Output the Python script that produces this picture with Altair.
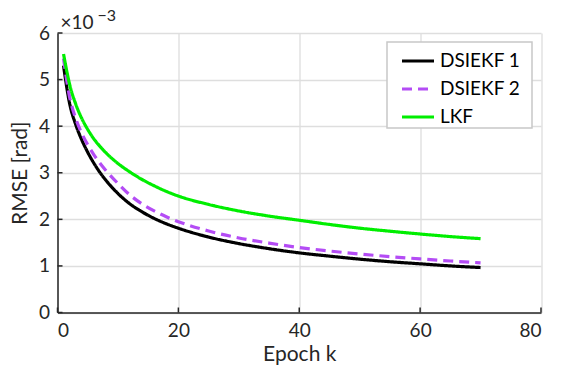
import altair as alt
import pandas as pd

# ---- data ----
epochs = [1, 2, 3, 4, 5, 6, 7, 8, 10, 12, 14, 16, 18, 20, 25, 30, 35, 40, 45, 50, 55, 60, 65, 70]
dsiekf1 = [5.30, 4.49, 4.04, 3.71, 3.44, 3.21, 3.01, 2.84, 2.555, 2.33, 2.16, 2.02, 1.905, 1.81,
           1.62, 1.48, 1.37, 1.28, 1.21, 1.145, 1.09, 1.045, 1.00, 0.965]
dsiekf2 = [5.45, 4.63, 4.17, 3.85, 3.60, 3.39, 3.21, 3.05, 2.77, 2.52, 2.33, 2.18, 2.055, 1.95,
           1.75, 1.60, 1.49, 1.395, 1.32, 1.255, 1.20, 1.15, 1.105, 1.067]
lkf = [5.55, 4.90, 4.48, 4.17, 3.93, 3.73, 3.57, 3.43, 3.20, 3.015, 2.855, 2.72, 2.60, 2.50,
       2.32, 2.18, 2.07, 1.98, 1.89, 1.81, 1.745, 1.685, 1.63, 1.585]
series_names = ["DSIEKF 1", "DSIEKF 2", "LKF"]
series_colors = ["#000000", "#b44cf5", "#00ee00"]
series_dash = [[1, 0], [10, 6], [1, 0]]
x_ticks = [0, 20, 40, 60, 80]
y_ticks = [0, 1, 2, 3, 4, 5, 6]

W, H = 483.5, 279.5
FONT = "Lato"

rows = []
for name, vals in zip(series_names, [dsiekf1, dsiekf2, lkf]):
    for k, v in zip(epochs, vals):
        rows.append({"k": k, "rmse": v, "series": name})
df = pd.DataFrame(rows)

xs = alt.Scale(domain=[0, 80], nice=False)
ys = alt.Scale(domain=[0, 6], nice=False)

# legend frame (decoration)
frame = alt.Chart(pd.DataFrame({"a": [0]})).mark_rect(
    fill="white", stroke="#c8c8c8", strokeWidth=1.5).encode(
    x=alt.value(329.5), x2=alt.value(474.5), y=alt.value(9), y2=alt.value(95))

lines = alt.Chart(df).mark_line(strokeWidth=3.2, interpolate="monotone").encode(
    x=alt.X("k:Q", scale=xs, title="Epoch k",
            axis=alt.Axis(values=x_ticks, grid=True, ticks=False, labelPadding=9,
                          titlePadding=3)),
    y=alt.Y("rmse:Q", scale=ys, title="RMSE [rad]",
            axis=alt.Axis(values=y_ticks, grid=True, ticks=False, labelPadding=8,
                          titlePadding=8)),
    color=alt.Color("series:N", scale=alt.Scale(domain=series_names, range=series_colors),
                    title=None,
                    legend=alt.Legend(orient="none", legendX=342.5, legendY=10,
                                      symbolType="stroke", symbolSize=1024,
                                      symbolStrokeWidth=3.2, labelFontSize=19,
                                      labelFont=FONT, labelColor="#000000",
                                      padding=0, rowPadding=-4, labelOffset=4)),
    strokeDash=alt.StrokeDash("series:N", scale=alt.Scale(domain=series_names, range=series_dash),
                              title=None, legend=None),
)

xt = alt.Chart(pd.DataFrame({"t": x_ticks})).mark_rule(color="#262626", strokeWidth=1.5).encode(
    x=alt.X("t:Q", scale=xs), y=alt.value(H), y2=alt.value(H - 5))
yt = alt.Chart(pd.DataFrame({"t": y_ticks})).mark_rule(color="#262626", strokeWidth=1.5).encode(
    y=alt.Y("t:Q", scale=ys), x=alt.value(0), x2=alt.value(5))

exp1 = alt.Chart(pd.DataFrame({"s": ["×10"]})).mark_text(
    font=FONT, fontSize=19, align="left", baseline="alphabetic", color="#262626").encode(
    text="s:N", x=alt.value(3), y=alt.value(-4))
exp2 = alt.Chart(pd.DataFrame({"s": ["−3"]})).mark_text(
    font=FONT, fontSize=16, align="left", baseline="alphabetic", color="#262626").encode(
    text="s:N", x=alt.value(40), y=alt.value(-12))

chart = alt.layer(lines, frame, xt, yt, exp1, exp2).properties(
    width=W, height=H,
    autosize=alt.AutoSizeParams(type="none"),
    padding={"left": 57.5, "top": 33, "right": 21, "bottom": 56.5},
).configure_view(stroke=None).configure_axis(
    domainColor="#262626", domainWidth=1.5, gridColor="#dedede", gridWidth=1.3,
    labelFont=FONT, labelFontSize=19, labelColor="#262626",
    titleFont=FONT, titleFontSize=21, titleColor="#262626", titleFontWeight="normal",
).configure_legend(labelLimit=200)

chart.save("out.html", embed_options={"renderer": "svg", "actions": False})
